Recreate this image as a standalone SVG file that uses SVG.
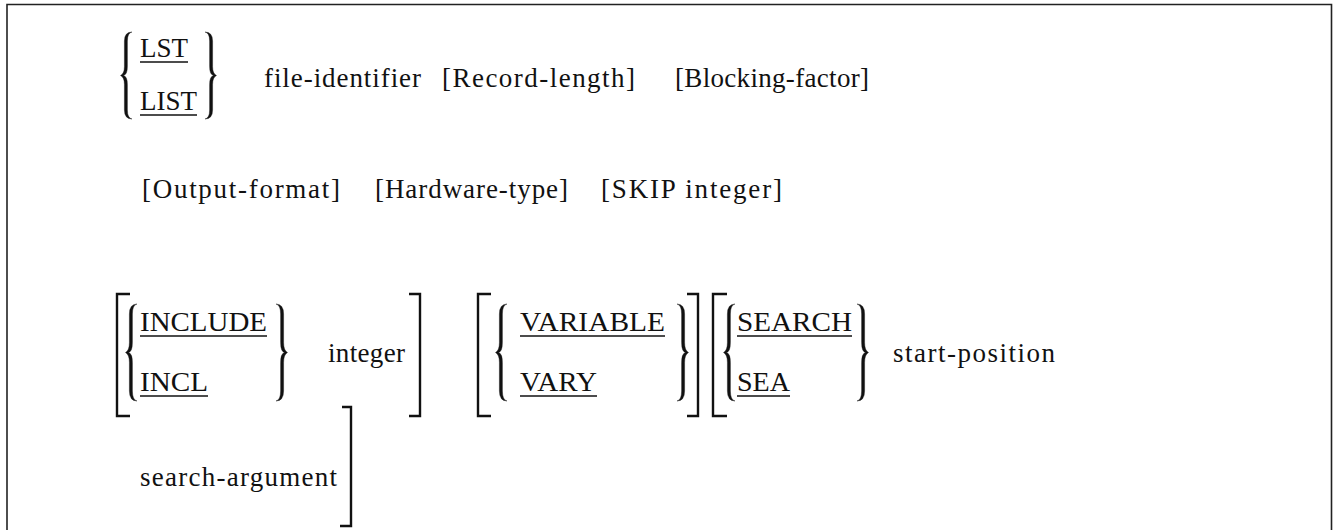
<svg xmlns="http://www.w3.org/2000/svg" width="1338" height="530" viewBox="0 0 1338 530">
  <style>
    .t { font-family: "Liberation Serif", "Times New Roman", serif; font-size: 27px; fill: #111; }
    .ul { stroke: #111; stroke-width: 1.6; fill: none; }
    .br { stroke: #111; stroke-width: 2.4; fill: none; stroke-linejoin: miter; }
    .cb { fill: #111; stroke: #111; stroke-width: 0.4; }
    .frame { stroke: #222; stroke-width: 1.6; fill: none; }
  </style>
  <defs>
    <!-- left curly brace, 97 units tall, stroke thicker along the shafts -->
    <path id="lbrace" d="M6,0 Q-1.6,0 -1.6,10 L-1.6,38.5 Q-1.6,46.5 -5.5,48.5 Q-1.6,50.5 -1.6,58.5 L-1.6,87 Q-1.6,97 6,97 Q1.4,96 1.4,87 L1.4,58.5 Q1.4,49.5 -2.5,48.5 Q1.4,47.5 1.4,38.5 L1.4,10 Q1.4,1 6,0 Z"/>
  </defs>

  <rect width="1338" height="530" fill="#fff"/>
  <!-- open frame: top, left and right edges -->
  <path class="frame" d="M7,531 L7,4.5 L1331.5,4.5 L1331.5,531"/>

  <!-- row 1 -->
  <g id="row1-keyword">
    <use href="#lbrace" class="cb" transform="translate(126,32) scale(1,0.897)"/>
    <text class="t" x="140" y="57" textLength="48" lengthAdjust="spacingAndGlyphs">LST</text>
    <line class="ul" x1="140" y1="62" x2="188" y2="62"/>
    <text class="t" x="140" y="110" textLength="57" lengthAdjust="spacingAndGlyphs">LIST</text>
    <line class="ul" x1="140" y1="115" x2="197" y2="115"/>
    <use href="#lbrace" class="cb" transform="translate(211,32) scale(-1,0.897)"/>
  </g>
  <g id="file-identifier">
    <text class="t" x="264" y="87" textLength="157" lengthAdjust="spacing">file-identifier</text>
  </g>
  <g id="record-length">
    <text class="t" x="442" y="87" textLength="193" lengthAdjust="spacing">[Record-length]</text>
  </g>
  <g id="blocking-factor">
    <text class="t" x="675" y="87" textLength="194" lengthAdjust="spacing">[Blocking-factor]</text>
  </g>

  <!-- row 2 -->
  <g id="output-format">
    <text class="t" x="142" y="198" textLength="198" lengthAdjust="spacing">[Output-format]</text>
  </g>
  <g id="hardware-type">
    <text class="t" x="375" y="198" textLength="193" lengthAdjust="spacing">[Hardware-type]</text>
  </g>
  <g id="skip-integer">
    <text class="t" x="601" y="198" textLength="181" lengthAdjust="spacing">[SKIP integer]</text>
  </g>

  <!-- row 3: INCLUDE option -->
  <g id="include-option">
    <path class="br" d="M130,294 L117,294 L117,416 L130,416"/>
    <use href="#lbrace" class="cb" transform="translate(131,304)"/>
    <text class="t" x="140" y="331" textLength="127" lengthAdjust="spacingAndGlyphs">INCLUDE</text>
    <line class="ul" x1="140" y1="336" x2="267" y2="336"/>
    <text class="t" x="140" y="391" textLength="68" lengthAdjust="spacingAndGlyphs">INCL</text>
    <line class="ul" x1="140" y1="396" x2="208" y2="396"/>
    <use href="#lbrace" class="cb" transform="translate(282,304) scale(-1,1)"/>
    <text class="t" x="328" y="362" textLength="77" lengthAdjust="spacing">integer</text>
    <path class="br" d="M409,294 L420,294 L420,416 L409,416"/>
  </g>

  <!-- row 3: VARIABLE option -->
  <g id="variable-option">
    <path class="br" d="M491,294 L478,294 L478,416 L491,416"/>
    <use href="#lbrace" class="cb" transform="translate(501,304)"/>
    <text class="t" x="520" y="331" textLength="145" lengthAdjust="spacingAndGlyphs">VARIABLE</text>
    <line class="ul" x1="520" y1="336" x2="665" y2="336"/>
    <text class="t" x="520" y="391" textLength="77" lengthAdjust="spacingAndGlyphs">VARY</text>
    <line class="ul" x1="520" y1="396" x2="597" y2="396"/>
    <use href="#lbrace" class="cb" transform="translate(683,304) scale(-1,1)"/>
    <path class="br" d="M687,294 L698,294 L698,416 L687,416"/>
  </g>

  <!-- row 3/4: SEARCH option -->
  <g id="search-option">
    <path class="br" d="M727,294 L713,294 L713,416 L727,416"/>
    <use href="#lbrace" class="cb" transform="translate(729,304)"/>
    <text class="t" x="737" y="331" textLength="115" lengthAdjust="spacingAndGlyphs">SEARCH</text>
    <line class="ul" x1="737" y1="336" x2="852" y2="336"/>
    <text class="t" x="737" y="391" textLength="53" lengthAdjust="spacingAndGlyphs">SEA</text>
    <line class="ul" x1="737" y1="396" x2="790" y2="396"/>
    <use href="#lbrace" class="cb" transform="translate(863,304) scale(-1,1)"/>
    <text class="t" x="893" y="362" textLength="162" lengthAdjust="spacing">start-position</text>
    <text class="t" x="140" y="486" textLength="197" lengthAdjust="spacing">search-argument</text>
    <path class="br" d="M342,407 L351,407 L351,526 L340,526"/>
  </g>
</svg>
